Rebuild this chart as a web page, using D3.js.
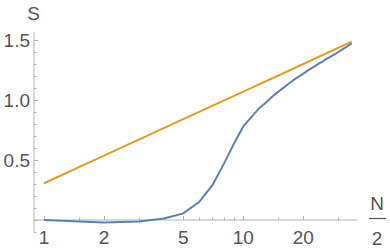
<!DOCTYPE html>
<html>
<head>
<meta charset="utf-8">
<script src="https://cdn.jsdelivr.net/npm/d3@7"></script>
<style>
  body { margin: 0; background: #fff; }
  text { font-family: "Liberation Sans", Arial, sans-serif; fill: #555; }
</style>
</head>
<body>
<div id="chart"></div>
<script>
// N/2 sample points (integers) and entropy S of the blue curve
const halfN = [1, 2, 3, 4, 5, 6, 7, 8, 9, 10, 11, 12, 13, 14, 15, 16, 17, 18,
  19, 20, 21, 22, 23, 24, 25, 26, 27, 28, 29, 30, 31, 32, 33, 34, 35];
const entropy = [0.0, -0.02, -0.012, 0.012, 0.055, 0.15, 0.29, 0.47, 0.64, 0.78,
  0.86, 0.93, 0.98, 1.03, 1.07, 1.105, 1.14, 1.17, 1.195, 1.22, 1.245, 1.265,
  1.285, 1.305, 1.32, 1.34, 1.355, 1.37, 1.385, 1.40, 1.415, 1.43, 1.443, 1.458, 1.472];

// orange reference line (straight in log N/2)
const refN = [1, 2, 5, 10, 20, 35];
const refS = [0.306, 0.536, 0.84, 1.07, 1.30, 1.486];

const xMajor = [1, 2, 5, 10, 20];
const xMinor = [1.5, 3, 4, 6, 7, 8, 9, 15, 30];
const yMajor = [0.5, 1.0, 1.5];

const width = 390, height = 250;
const axisColor = "#b3b3b3";

const svg = d3.select("#chart").append("svg")
  .attr("width", width)
  .attr("height", height);

const x = d3.scaleLog().domain([0.891, 37.2]).range([34, 357]);
const y = d3.scaleLinear().domain([0, 1.5]).range([220, 40]);

// axes lines
svg.append("line")
  .attr("x1", x(0.891)).attr("x2", x(37.2))
  .attr("y1", y(0)).attr("y2", y(0))
  .attr("stroke", axisColor);
svg.append("line")
  .attr("x1", x(0.891)).attr("x2", x(0.891))
  .attr("y1", y(-0.1)).attr("y2", y(1.567))
  .attr("stroke", axisColor);

// y ticks every 0.1, labels at 0.5 steps
d3.range(-1, 16).forEach(i => {
  const v = i / 10;
  const major = i % 5 === 0;
  svg.append("line")
    .attr("x1", x(0.891)).attr("x2", x(0.891) + (major ? 4 : 2.5))
    .attr("y1", Math.round(y(v)) + 0.5).attr("y2", Math.round(y(v)) + 0.5)
    .attr("stroke", axisColor);
});
yMajor.forEach(v => {
  svg.append("text")
    .attr("x", 30)
    .attr("y", y(v))
    .attr("dy", "0.36em")
    .attr("text-anchor", "end")
    .style("font-size", "19px")
    .text(d3.format(".1f")(v));
});

// x ticks (pointing up into the plot)
xMajor.concat(xMinor).forEach(v => {
  const major = xMajor.includes(v);
  svg.append("line")
    .attr("x1", Math.round(x(v)) + 0.5).attr("x2", Math.round(x(v)) + 0.5)
    .attr("y1", y(0)).attr("y2", y(0) - (major ? 4 : 2.5))
    .attr("stroke", axisColor);
});
xMajor.forEach(v => {
  svg.append("text")
    .attr("x", x(v))
    .attr("y", 243.5)
    .attr("text-anchor", "middle")
    .style("font-size", "19px")
    .text(v);
});

// axis labels
svg.append("text")
  .attr("x", 33.5).attr("y", 20)
  .attr("text-anchor", "middle")
  .style("font-size", "19px")
  .text("S");
svg.append("text")
  .attr("x", 377).attr("y", 209.5)
  .attr("text-anchor", "middle")
  .style("font-size", "19px")
  .text("N");
svg.append("line")
  .attr("x1", 369).attr("x2", 386)
  .attr("y1", 218.5).attr("y2", 218.5)
  .attr("stroke", "#555").attr("stroke-width", 1.2);
svg.append("text")
  .attr("x", 377).attr("y", 245)
  .attr("text-anchor", "middle")
  .style("font-size", "19px")
  .text("2");

const line = d3.line()
  .x(d => x(d[0]))
  .y(d => y(d[1]));

svg.append("path")
  .datum(refN.map((n, i) => [n, refS[i]]))
  .attr("d", line)
  .attr("fill", "none")
  .attr("stroke", "#e19c24")
  .attr("stroke-width", 2);

svg.append("path")
  .datum(halfN.map((n, i) => [n, entropy[i]]))
  .attr("d", line)
  .attr("fill", "none")
  .attr("stroke", "#5e81b5")
  .attr("stroke-width", 2);
</script>
</body>
</html>
